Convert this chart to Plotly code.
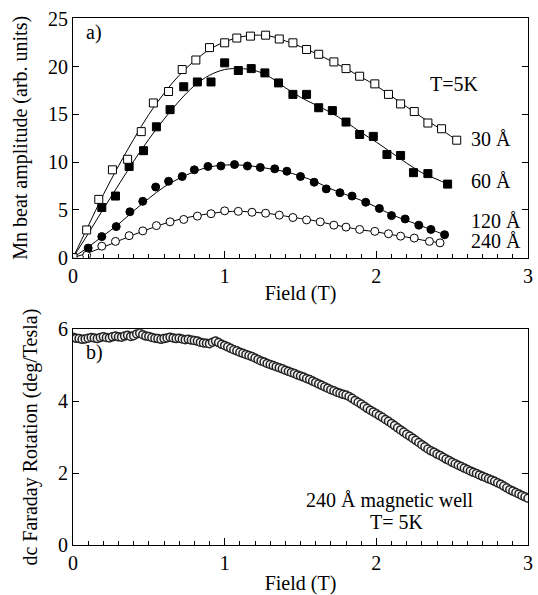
import plotly.graph_objects as go

FONT = "Liberation Serif, Times New Roman, serif"

# ---------- panel a) data ----------
x30 = [0, 0.09, 0.17, 0.26, 0.36, 0.45, 0.53, 0.63, 0.72, 0.81, 0.90, 1.00, 1.08, 1.17, 1.27,
       1.36, 1.45, 1.54, 1.62, 1.72, 1.80, 1.89, 1.99, 2.08, 2.16, 2.25, 2.34, 2.43, 2.53]
y30 = [0, 2.9, 6.1, 9.2, 10.3, 13.2, 16.2, 17.4, 19.7, 20.7, 22.0, 22.5, 23.0, 23.2, 23.3,
       22.9, 22.5, 21.8, 21.3, 20.5, 19.8, 19.0, 18.2, 17.1, 16.1, 15.3, 14.1, 13.5, 12.3]
fx30 = [0, 0.1, 0.2, 0.3, 0.4, 0.5, 0.6, 0.7, 0.8, 0.9, 1.0, 1.1, 1.2, 1.3, 1.4, 1.5, 1.6,
        1.7, 1.8, 1.9, 2.0, 2.1, 2.2, 2.3, 2.4, 2.53]
fy30 = [0, 3.3, 6.6, 9.6, 12.4, 15.0, 17.2, 19.1, 20.6, 21.8, 22.6, 23.1, 23.3, 23.2, 22.7,
        22.1, 21.4, 20.6, 19.8, 18.9, 18.0, 16.9, 15.8, 14.7, 13.7, 12.3]

x60 = [0.19, 0.28, 0.37, 0.465, 0.55, 0.64, 0.73, 0.82, 0.91, 1.00, 1.09, 1.175, 1.265,
       1.355, 1.45, 1.54, 1.62, 1.71, 1.80, 1.89, 1.98, 2.07, 2.16, 2.245, 2.34, 2.47]
y60 = [5.25, 6.45, 9.55, 11.2, 13.7, 15.5, 17.9, 18.4, 18.4, 20.4, 19.6, 19.8, 19.35,
       18.3, 17.1, 17.1, 15.7, 15.4, 14.2, 12.9, 12.7, 10.8, 10.7, 8.9, 8.8, 7.7]
fx60 = [0, 0.1, 0.2, 0.3, 0.4, 0.5, 0.6, 0.7, 0.8, 0.9, 1.0, 1.1, 1.2, 1.3, 1.4, 1.5, 1.6,
        1.7, 1.8, 1.9, 2.0, 2.1, 2.2, 2.3, 2.4, 2.47]
fy60 = [0, 2.5, 5.1, 7.6, 10.1, 12.4, 14.5, 16.4, 18.0, 19.1, 19.7, 19.8, 19.6, 18.9, 17.8,
        16.8, 16.0, 15.2, 14.2, 13.1, 12.1, 11.0, 9.9, 8.9, 8.2, 7.7]

x120 = [0.10, 0.19, 0.285, 0.375, 0.46, 0.545, 0.63, 0.72, 0.80, 0.89, 0.975, 1.065, 1.15,
        1.235, 1.33, 1.41, 1.50, 1.59, 1.67, 1.76, 1.84, 1.93, 2.02, 2.10, 2.19, 2.28, 2.36, 2.45]
y120 = [1.0, 2.2, 3.25, 4.8, 5.9, 7.4, 8.0, 8.5, 9.2, 9.55, 9.6, 9.75, 9.6,
        9.45, 9.3, 9.05, 8.5, 7.9, 7.2, 6.8, 6.45, 5.8, 5.15, 4.4, 4.05, 3.4, 2.95, 2.4]
fx120 = [0, 0.1, 0.2, 0.3, 0.4, 0.5, 0.6, 0.7, 0.8, 0.9, 1.0, 1.1, 1.2, 1.3, 1.4, 1.5, 1.6,
         1.7, 1.8, 1.9, 2.0, 2.1, 2.2, 2.3, 2.45]
fy120 = [0, 1.1, 2.3, 3.5, 4.9, 6.2, 7.4, 8.3, 9.0, 9.5, 9.7, 9.7, 9.55, 9.3, 9.0, 8.55,
         7.95, 7.2, 6.6, 6.0, 5.3, 4.5, 3.9, 3.3, 2.4]

x240 = [0.09, 0.19, 0.28, 0.37, 0.46, 0.55, 0.64, 0.73, 0.82, 0.91, 1.00, 1.09, 1.18, 1.27,
        1.36, 1.45, 1.54, 1.63, 1.72, 1.80, 1.89, 1.99, 2.08, 2.16, 2.25, 2.35, 2.42]
y240 = [0.25, 1.2, 1.7, 2.3, 2.8, 3.35, 3.75, 4.0, 4.35, 4.6, 4.9, 4.85, 4.75, 4.65,
        4.45, 4.2, 3.95, 3.75, 3.4, 3.2, 2.95, 2.75, 2.5, 2.25, 2.05, 1.7, 1.55]
fx240 = [0, 0.1, 0.2, 0.3, 0.4, 0.5, 0.6, 0.7, 0.8, 0.9, 1.0, 1.1, 1.2, 1.3, 1.4, 1.5, 1.6,
         1.7, 1.8, 1.9, 2.0, 2.1, 2.2, 2.3, 2.42]
fy240 = [0, 0.5, 1.1, 1.75, 2.4, 3.0, 3.55, 4.0, 4.35, 4.6, 4.8, 4.85, 4.75, 4.6, 4.35,
         4.1, 3.85, 3.5, 3.2, 2.9, 2.7, 2.4, 2.15, 1.85, 1.55]

# ---------- panel b) data (field step 0.02 T) ----------
xb = [round(i * 0.02, 2) for i in range(151)]
yb = [5.78, 5.75, 5.74, 5.72, 5.73, 5.75, 5.77, 5.76, 5.74, 5.77,
      5.79, 5.77, 5.76, 5.79, 5.81, 5.79, 5.78, 5.81, 5.83, 5.80,
      5.82, 5.87, 5.89, 5.85, 5.81, 5.80, 5.77, 5.75, 5.74, 5.72,
      5.74, 5.76, 5.78, 5.76, 5.74, 5.75, 5.73, 5.71, 5.72, 5.70,
      5.69, 5.67, 5.64, 5.62, 5.61, 5.60, 5.64, 5.67, 5.63, 5.58,
      5.55, 5.51, 5.47, 5.43, 5.40, 5.36, 5.33, 5.30, 5.27, 5.24,
      5.20, 5.16, 5.12, 5.09, 5.05, 5.02, 4.99, 4.96, 4.93, 4.90,
      4.86, 4.83, 4.80, 4.77, 4.73, 4.70, 4.67, 4.63, 4.60, 4.56,
      4.52, 4.48, 4.44, 4.40, 4.36, 4.32, 4.29, 4.25, 4.22, 4.19,
      4.17, 4.13, 4.08, 4.02, 3.97, 3.92, 3.86, 3.80, 3.75, 3.70,
      3.65, 3.60, 3.55, 3.49, 3.44, 3.38, 3.32, 3.26, 3.20, 3.14,
      3.08, 3.03, 2.97, 2.91, 2.85, 2.79, 2.73, 2.67, 2.62, 2.58,
      2.53, 2.49, 2.44, 2.39, 2.35, 2.30, 2.26, 2.22, 2.18, 2.14,
      2.10, 2.06, 2.02, 1.99, 1.95, 1.91, 1.88, 1.84, 1.81, 1.77,
      1.73, 1.69, 1.64, 1.59, 1.54, 1.50, 1.46, 1.42, 1.38, 1.34,
      1.30]

labels_a = ["30 Å", "60 Å", "120 Å", "240 Å"]
label_y = [12.4, 8.0, 3.8, 1.7]

fig = go.Figure()


def add_series(fx, fy, x, y, symbol, fill):
    fig.add_trace(go.Scatter(x=fx, y=fy, mode="lines",
                             line=dict(color="black", width=1, shape="spline"),
                             xaxis="x", yaxis="y", showlegend=False, hoverinfo="skip"))
    fig.add_trace(go.Scatter(x=x, y=y, mode="markers", xaxis="x", yaxis="y", showlegend=False,
                             marker=dict(symbol=symbol, size=8, color=fill,
                                         line=dict(color="black", width=1))))


add_series(fx240, fy240, x240, y240, "circle", "white")
add_series(fx120, fy120, x120, y120, "circle", "black")
add_series(fx60, fy60, x60, y60, "square", "black")
add_series(fx30, fy30, x30, y30, "square", "white")

fig.add_trace(go.Scatter(x=xb, y=yb, mode="markers", xaxis="x2", yaxis="y2", showlegend=False,
                         marker=dict(symbol="circle", size=8, color="#f4f4f4",
                                     line=dict(color="#222222", width=1.5))))

tf = dict(family=FONT, size=20, color="black")
common = dict(showline=True, linecolor="black", linewidth=1, ticks="inside", showgrid=False,
              zeroline=False, tickfont=tf, color="black")

fig.update_layout(
    width=538, height=595, plot_bgcolor="white", paper_bgcolor="white",
    margin=dict(l=73, r=5, t=18, b=47),
    font=tf,
    xaxis=dict(**common, domain=[0, 1], anchor="y", range=[0, 3], tickvals=[0, 1, 2, 3],
               ticklen=7, mirror=True,
               minor=dict(dtick=0.1, ticklen=4, ticks="inside", tick0=0),
               title=dict(text="Field (T)", font=tf, standoff=0)),
    yaxis=dict(**common, domain=[0.5453, 1], anchor="x", range=[0, 25.1],
               tickvals=[0, 5, 10, 15, 20, 25], ticklen=6, mirror="ticks",
               title=dict(text="Mn beat amplitude (arb. units)", font=tf, standoff=14)),
    xaxis2=dict(**common, domain=[0, 1], anchor="y2", range=[0, 3], tickvals=[0, 1, 2, 3],
                ticklen=7, mirror=True,
                minor=dict(dtick=0.1, ticklen=4, ticks="inside", tick0=0),
                title=dict(text="Field (T)", font=tf, standoff=2)),
    yaxis2=dict(**common, domain=[0, 0.4094], anchor="x2", range=[0, 6],
                tickvals=[0, 2, 4, 6], ticklen=6, mirror="ticks",
                title=dict(text="dc Faraday Rotation (deg/Tesla)", font=tf, standoff=14)),
)

ann = []
ann.append(dict(x=0.07, y=23.6, xref="x", yref="y", text="a)", showarrow=False,
                xanchor="left", font=tf))
ann.append(dict(x=2.51, y=18.2, xref="x", yref="y", text="T=5K", showarrow=False, font=tf))
for t, yy in zip(labels_a, label_y):
    ann.append(dict(x=2.61, y=yy, xref="x", yref="y", text=t, showarrow=False,
                    xanchor="left", font=tf))
ann.append(dict(x=0.07, y=5.35, xref="x2", yref="y2", text="b)", showarrow=False,
                xanchor="left", font=tf))
ann.append(dict(x=2.09, y=1.25, xref="x2", yref="y2", text="240 Å magnetic well",
                showarrow=False, font=tf))
ann.append(dict(x=2.13, y=0.64, xref="x2", yref="y2", text="T= 5K", showarrow=False, font=tf))
fig.update_layout(annotations=ann)

fig.write_html("out.html")
